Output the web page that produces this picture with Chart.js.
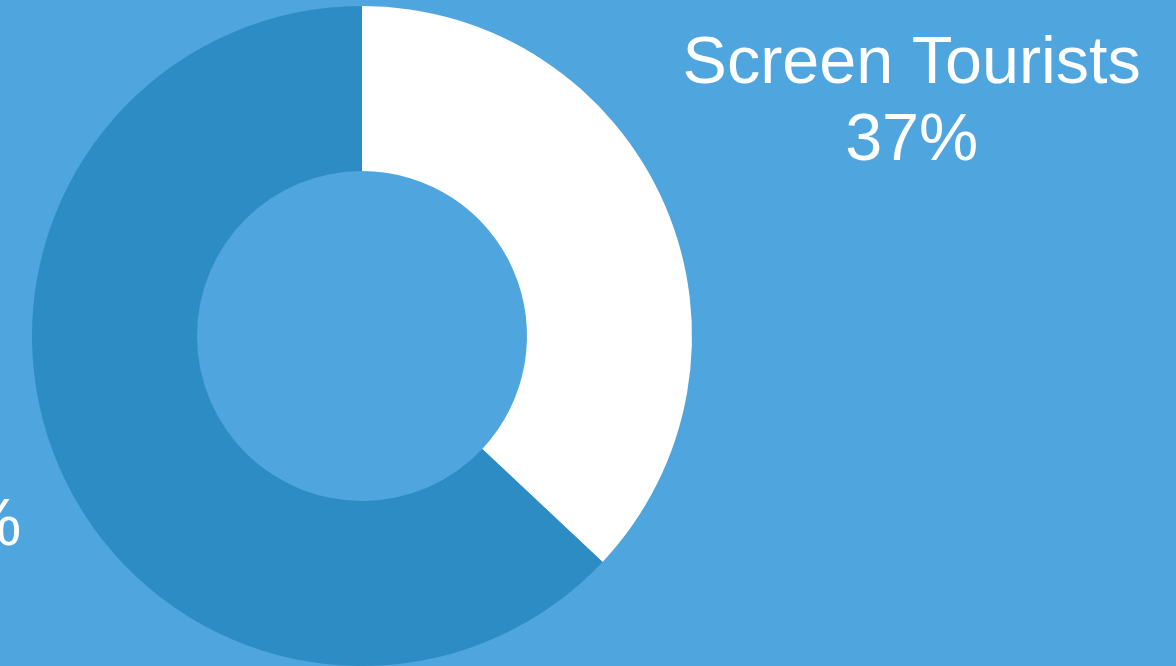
<!DOCTYPE html>
<html>
<head>
<meta charset="utf-8">
<script src="https://cdn.jsdelivr.net/npm/chart.js@4/dist/chart.umd.min.js"></script>
<style>
  html, body { margin: 0; padding: 0; background: #4FA5DE; overflow: hidden; }
  #wrap { width: 1176px; height: 666px; }
  canvas { display: block; }
</style>
</head>
<body>
<div id="wrap"><canvas id="c" width="1176" height="666"></canvas></div>
<script>
const categories = ['Screen Tourists', 'Other Tourists'];
const values = [37, 63];
const sliceColors = ['#FFFFFF', '#2D8CC4'];

const labelPlugin = {
  id: 'sliceLabels',
  afterDatasetsDraw(chart) {
    const ctx = chart.ctx;
    const meta = chart.getDatasetMeta(0);
    ctx.save();
    ctx.fillStyle = '#FFFFFF';
    ctx.font = '66.5px "Liberation Sans", Arial, sans-serif';
    meta.data.forEach((arc, i) => {
      const p = arc.getProps(['x', 'y', 'startAngle', 'endAngle', 'outerRadius']);
      const mid = (p.startAngle + p.endAngle) / 2;
      const d = p.outerRadius * 1.815;
      const ax = p.x + Math.cos(mid) * d;
      const ay = p.y + Math.sin(mid) * d;
      const pct = values[i] + '%';
      ctx.textBaseline = 'alphabetic';
      if (i === 0) {
        ctx.textAlign = 'center';
        ctx.fillText(categories[i], ax, ay - 15);
        ctx.fillText(pct, ax, ay + 62);
      } else {
        ctx.textAlign = 'right';
        ctx.fillText(categories[i] + ' ' + pct, ax + 209, ay - 29);
      }
    });
    ctx.restore();
  }
};

new Chart(document.getElementById('c'), {
  type: 'doughnut',
  data: {
    labels: categories,
    datasets: [{
      data: values,
      backgroundColor: sliceColors,
      borderWidth: 0,
      hoverOffset: 0
    }]
  },
  options: {
    responsive: false,
    devicePixelRatio: 1,
    animation: false,
    cutout: '50%',
    layout: { padding: { left: 32, right: 484, top: 6, bottom: 0 } },
    plugins: {
      legend: { display: false },
      tooltip: { enabled: false }
    }
  },
  plugins: [labelPlugin]
});
</script>
</body>
</html>
